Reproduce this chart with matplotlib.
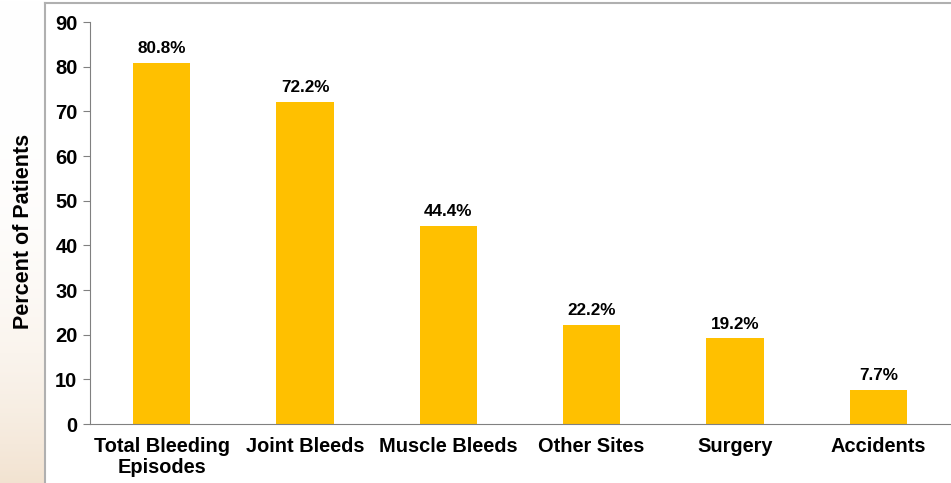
import numpy as np
import matplotlib
matplotlib.use("Agg")
import matplotlib.pyplot as plt
from matplotlib.lines import Line2D

categories = ["Total Bleeding\nEpisodes", "Joint Bleeds", "Muscle Bleeds",
              "Other Sites", "Surgery", "Accidents"]
values = [80.8, 72.2, 44.4, 22.2, 19.2, 7.7]
labels = ["80.8%", "72.2%", "44.4%", "22.2%", "19.2%", "7.7%"]
yticks = [0, 10, 20, 30, 40, 50, 60, 70, 80, 90]

plt.rcParams["font.family"] = ["Liberation Sans", "DejaVu Sans"]
plt.rcParams["font.weight"] = "bold"

W, H = 951, 483
fig = plt.figure(figsize=(W / 100, H / 100), dpi=100)

# soft peach gradient at the lower left, like the slide background
bg = fig.add_axes([0, 0, 1, 1], zorder=-10)
bg.set_axis_off()
grad = np.linspace(0, 1, 200)[:, None] ** 3
base = np.array([1.0, 1.0, 1.0])
peach = np.array([0.95, 0.89, 0.82])
img = base + (peach - base) * grad[..., None]
bg.imshow(img, extent=[0, 45 / W, 0, 1], aspect="auto", origin="upper")
bg.set_xlim(0, 1)
bg.set_ylim(0, 1)
fig.add_artist(Line2D([45 / W, 45 / W], [0, 1 - 3 / H], color="#b0b0b0", lw=1.5))
fig.add_artist(Line2D([45 / W, 1], [1 - 3 / H, 1 - 3 / H], color="#b0b0b0", lw=1.5))

ax = fig.add_axes([90 / W, 1 - 424 / H, 860 / W, 402 / H])
ax.patch.set_alpha(0)
x = np.arange(len(categories))
ax.bar(x, values, width=0.4, color="#FFC000")
for xi, v, lab in zip(x, values, labels):
    ax.text(xi, v + 1.5, lab, ha="center", va="bottom", fontsize=12.3, fontweight="bold")

ax.set_xlim(-0.5, len(categories) - 0.5)
ax.set_ylim(0, 90)
ax.set_yticks(yticks)
ax.set_xticks(x)
ax.set_xticklabels(categories, fontsize=14.4, fontweight="bold", linespacing=1.15)
ax.tick_params(axis="x", length=0, pad=9)
ax.tick_params(axis="y", length=5, color="#808080", labelsize=14.5, pad=4)
for lab in ax.get_yticklabels():
    lab.set_fontweight("bold")
for s in ["top", "right"]:
    ax.spines[s].set_visible(False)
ax.spines["left"].set_color("#808080")
ax.spines["bottom"].set_color("#808080")
ax.set_ylabel("Percent of Patients", fontsize=15.5, fontweight="bold",
              va="center", ha="center")
ax.yaxis.set_label_coords(-66 / 860, 0.48)

fig.savefig("out.png", dpi=100)
